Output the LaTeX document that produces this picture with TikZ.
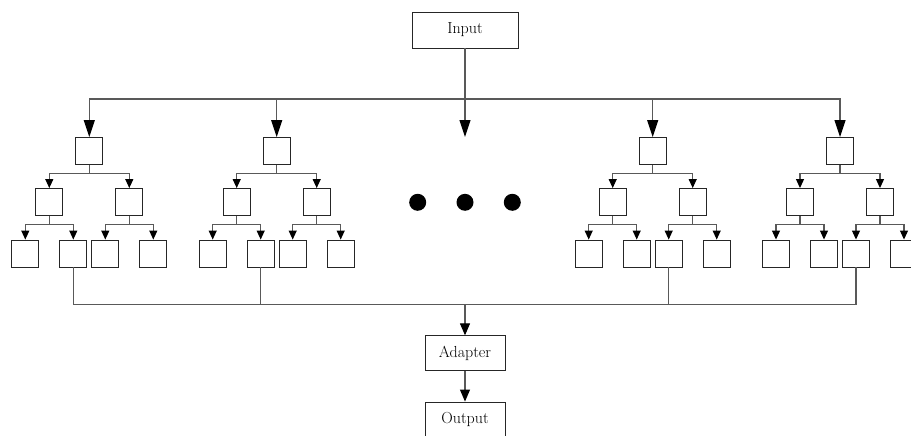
\documentclass[tikz,border=0pt]{standalone}
\usetikzlibrary{arrows.meta}
\begin{document}
\begin{tikzpicture}[x=1pt,y=-1pt,
  box/.style={draw=black!85, line width=0.9pt, fill=white, minimum width=27pt, minimum height=27pt, inner sep=0pt},
  lbl/.style={draw=black!85, line width=0.9pt, fill=white, font=\fontsize{16}{18}\selectfont, inner sep=0pt},
  conn/.style={draw=black!65, line width=1.1pt},
  bigtip/.style={conn, -{Triangle[length=17pt,width=11pt,color=black]}},
  midtip/.style={conn, -{Triangle[length=12pt,width=10pt,color=black]}},
  smalltip/.style={conn, -{Triangle[length=9pt,width=8pt,color=black]}},
  dot/.style={circle, fill=black, minimum size=17pt, inner sep=0pt}]
\clip (0,0) rectangle (911,436);
\fill[white] (0,0) rectangle (911,436);
\node[lbl, minimum width=106pt, minimum height=36pt] (in) at (465,30) {Input};
\node[lbl, minimum width=80pt, minimum height=35pt] (ad) at (465,353.3) {Adapter};
\node[lbl, minimum width=80pt, minimum height=35pt] (out) at (465,419.5) {Output};
\coordinate (ct) at (465,99);
\coordinate (mt) at (465,137);
\coordinate (cb) at (465,304.5);
\draw[conn] (in.south) -- (ct);
\draw[bigtip] (ct) -- (mt);
\foreach \i/\x in {1/89.3,2/276.7,3/652.7,4/840}{
  \node[box] (r\i) at (\x,151) {};
  \node[box] (c\i1) at (\x-40,202) {};
  \node[box] (c\i2) at (\x+40,202) {};
  \node[box] (l\i1) at (\x-64,253.5) {};
  \node[box] (l\i2) at (\x-16,253.5) {};
  \node[box] (l\i3) at (\x+16,253.5) {};
  \node[box] (l\i4) at (\x+64,253.5) {};
  \coordinate (j\i) at (\x,173.3);
  \coordinate (k\i1) at (\x-40,224.7);
  \coordinate (k\i2) at (\x+40,224.7);
  \draw[bigtip] (ct) -| (r\i.north);
  \draw[conn] (r\i.south) -- (j\i);
  \draw[smalltip] (j\i) -| (c\i1.north);
  \draw[smalltip] (j\i) -| (c\i2.north);
  \draw[conn] (c\i1.south) -- (k\i1);
  \draw[conn] (c\i2.south) -- (k\i2);
  \draw[smalltip] (k\i1) -| (l\i1.north);
  \draw[smalltip] (k\i1) -| (l\i2.north);
  \draw[smalltip] (k\i2) -| (l\i3.north);
  \draw[smalltip] (k\i2) -| (l\i4.north);
}
\draw[conn] (l12.south) |- (cb);
\draw[conn] (l22.south) |- (cb);
\draw[conn] (l33.south) |- (cb);
\draw[conn] (l43.south) |- (cb);
\draw[midtip] (cb) -- (ad.north);
\draw[midtip] (ad.south) -- (out.north);
\node[dot] (d1) at (417.7,202.3) {};
\node[dot] (d2) at (465,202.3) {};
\node[dot] (d3) at (512.3,202.3) {};
\end{tikzpicture}
\end{document}
